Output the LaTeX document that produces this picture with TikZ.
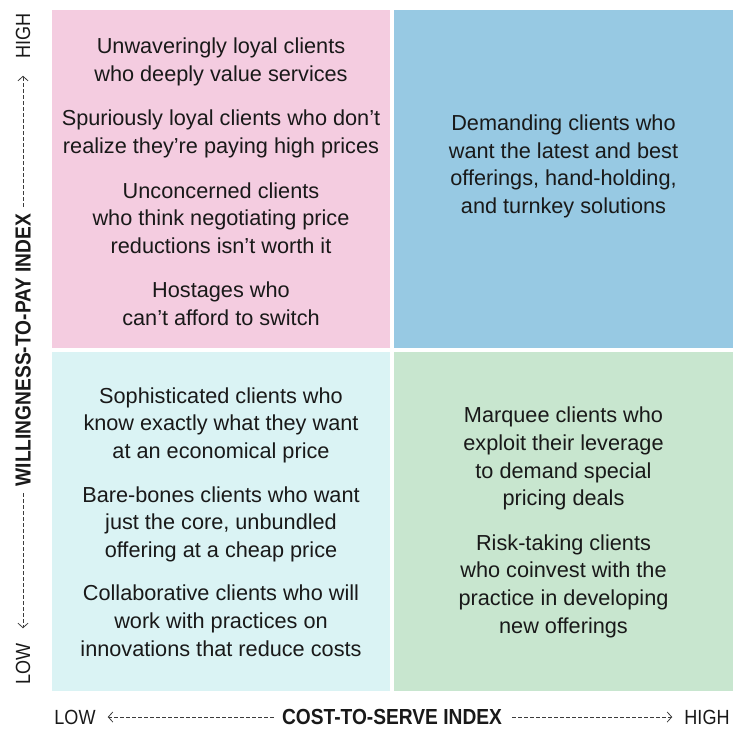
\documentclass[tikz,border=0pt]{standalone}
\usepackage{fontspec}
\setmainfont{Liberation Sans}
\newfontfamily\axisfont{Liberation Sans}[FakeStretch=0.88]
\usetikzlibrary{arrows.meta}

\definecolor{loyalPink}{RGB}{244,204,224}
\definecolor{demandBlue}{RGB}{151,201,227}
\definecolor{savvyCyan}{RGB}{218,243,244}
\definecolor{marqueeGreen}{RGB}{200,230,207}
\definecolor{ink}{RGB}{25,25,25}

\begin{document}
\begin{tikzpicture}[
  x=1pt, y=-1pt,
  font=\fontsize{21.7}{27.6}\selectfont,
  quad/.style={rectangle, inner sep=0pt, anchor=north west,
    minimum width=338pt, minimum height=338pt},
  blurb/.style={align=center, anchor=base, inner sep=0pt, text=ink},
  axislabel/.style={font=\axisfont\fontsize{20.5}{24}\selectfont, inner sep=0pt, text=ink},
  axistitle/.style={axislabel, font=\axisfont\bfseries\fontsize{21.8}{24}\selectfont},
  axis/.style={draw=ink!85, line width=0.8pt, dash pattern=on 3.5pt off 2.5pt,
    -{Straight Barb[length=4.5pt,width=10pt]}}]

\useasboundingbox (0,0) rectangle (733,731);

% The four client segments
\node[quad, fill=loyalPink] (loyal) at (52,10) {};
\node[quad, fill=demandBlue, minimum width=339pt] (demanding) at (394,10) {};
\node[quad, fill=savvyCyan, minimum height=339pt] (savvy) at (52,352) {};
\node[quad, fill=marqueeGreen, minimum width=339pt, minimum height=339pt] (marquee) at (394,352) {};

% What each segment is made of (base = last line)
\node[blurb] (loyalText) at (221,325.5) {Unwaveringly loyal clients\\who deeply value services\\[17pt]
  Spuriously loyal clients who don’t\\realize they’re paying high prices\\[17pt]
  Unconcerned clients\\who think negotiating price\\reductions isn’t worth it\\[17pt]
  Hostages who\\can’t afford to switch};
\node[blurb] (demandingText) at (563.5,213.3) {Demanding clients who\\want the latest and best\\
  offerings, hand-holding,\\and turnkey solutions};
\node[blurb] (savvyText) at (221,656) {Sophisticated clients who\\know exactly what they want\\at an economical price\\[16pt]
  Bare-bones clients who want\\just the core, unbundled\\offering at a cheap price\\[16pt]
  Collaborative clients who will\\work with practices on\\innovations that reduce costs};
\node[blurb] (marqueeText) at (563.5,633) {Marquee clients who\\exploit their leverage\\to demand special\\pricing deals\\[17pt]
  Risk-taking clients\\who coinvest with the\\practice in developing\\new offerings};

% Vertical axis
\node[axistitle, rotate=90] (wtp) at (23,350) {WILLINGNESS-TO-PAY INDEX};
\node[axislabel, rotate=90] (wtpHigh) at (23,36) {HIGH};
\node[axislabel, rotate=90] (wtpLow) at (23,664) {LOW};
\draw[axis, shorten <=7pt, shorten >=17pt] (wtp.east) -- (wtpHigh.west);
\draw[axis, shorten <=7pt, shorten >=15pt] (wtp.west) -- (wtpLow.east);

% Horizontal axis
\node[axistitle] (cts) at (392,717) {COST-TO-SERVE INDEX};
\node[axislabel] (ctsLow) at (75,717) {LOW};
\node[axislabel] (ctsHigh) at (707,717) {HIGH};
\draw[axis, shorten <=8pt, shorten >=12pt] (cts.west) -- (ctsLow.east);
\draw[axis, shorten <=10pt, shorten >=12pt] (cts.east) -- (ctsHigh.west);
\end{tikzpicture}
\end{document}
